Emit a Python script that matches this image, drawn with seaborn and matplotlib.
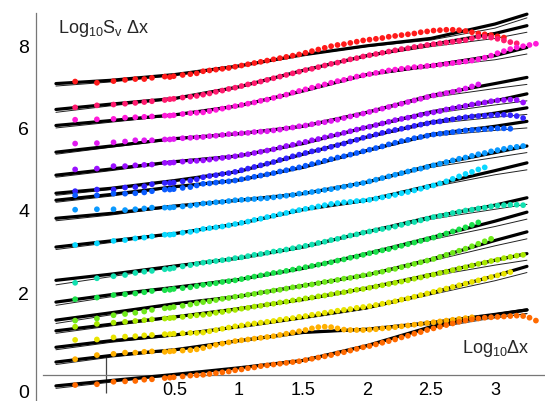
import numpy as np
import pandas as pd
import matplotlib
matplotlib.use("Agg")
import matplotlib.pyplot as plt
import seaborn as sns

N = np.nan

# ---------------- data ----------------
X_DOTS = [-0.28, -0.11, 0.02, 0.11, 0.19, 0.26, 0.32, 0.42, 0.46, 0.49, 0.56, 0.62, 0.67,
          0.72, 0.77, 0.82, 0.87, 0.92, 0.97, 1.02, 1.07, 1.12, 1.17,
          1.22, 1.27, 1.32, 1.37, 1.42, 1.47, 1.52, 1.57, 1.62, 1.67,
          1.72, 1.77, 1.82, 1.87, 1.92, 1.97, 2.02, 2.07, 2.12, 2.17,
          2.22, 2.27, 2.32, 2.37, 2.42, 2.47, 2.52, 2.57, 2.62, 2.67,
          2.72, 2.77, 2.82, 2.87, 2.92, 2.97, 3.02, 3.07, 3.12, 3.17,
          3.22, 3.27, 3.32]
X_LINE = [-0.43, 0.0, 0.5, 1.0, 1.5, 2.0, 2.5, 3.0, 3.25]

SERIES = ["red", "rose", "magenta", "violet", "purple", "blue", "azure", "sky",
          "cyan", "teal", "green", "lime", "chartreuse", "yellow", "amber", "orange"]
COLORS = ["#ff1a1a", "#ff1a6e", "#ff1ad9", "#e01af0", "#9a10ff", "#3322ff", "#0a5cff", "#0a99ff",
          "#0ad8ff", "#12e0b0", "#1ae04a", "#6ee81a", "#a8e800", "#e8e400", "#ffb000", "#ff6a00"]

RED_DOTS = [7.15, 7.12, 7.16, 7.19, 7.21, 7.21, 7.24, 7.27, 7.26, 7.28, 7.31, 7.33, 7.35,
            7.40, 7.42, 7.44, 7.46, 7.48, 7.51, 7.54, 7.57, 7.60, 7.63,
            7.66, 7.69, 7.72, 7.75, 7.78, 7.81, 7.85, 7.89, 7.93, 7.97,
            8.01, 8.04, 8.06, 8.09, 8.12, 8.15, 8.17, 8.19, 8.21, 8.24,
            8.26, 8.28, 8.30, 8.32, 8.35, 8.37, 8.39, 8.40, 8.41, 8.41,
            8.40, 8.38, 8.35, 8.32, 8.30, 8.28, 8.25, 8.22]
ROSE_DOTS = [6.52, 6.57, 6.59, 6.61, 6.63, 6.65, 6.67, 6.70, 6.72, 6.73, 6.76, 6.78, 6.80,
             6.83, 6.86, 6.90, 6.93, 6.97, 7.00, 7.04, 7.08, 7.11, 7.15,
             7.19, 7.23, 7.27, 7.31, 7.35, 7.39, 7.43, 7.46, 7.50, 7.54,
             7.58, 7.61, 7.65, 7.69, 7.72, 7.76, 7.79, 7.82, 7.85, 7.88,
             7.91, 7.94, 7.96, 7.99, 8.01, 8.04, 8.06, 8.08, 8.10, 8.12,
             8.14, 8.16, 8.20, 8.24, 8.24, 8.22, 8.19, 8.15, 8.11, 8.08]
MAGENTA_DOTS = [6.22, 6.23, 6.24, 6.27, 6.28, 6.29, 6.30, 6.32, 6.32, 6.33, 6.36, 6.38, 6.39,
                6.40, 6.43, 6.46, 6.49, 6.52, 6.55, 6.58, 6.61, 6.64, 6.68,
                6.71, 6.75, 6.79, 6.83, 6.88, 6.92, 6.96, 7.00, 7.04, 7.08,
                7.12, 7.16, 7.19, 7.23, 7.27, 7.30, 7.33, 7.36, 7.39, 7.42,
                7.44, 7.46, 7.48, 7.50, 7.51, 7.53, 7.54, 7.56, 7.58, 7.60,
                7.62, 7.64, 7.66, 7.69, 7.73, 7.78, 7.84, 7.89, 7.94, 7.98,
                8.01, 8.04, 8.07]
VIOLET_DOTS = [5.64, 5.65, 5.67, 5.69, 5.72, 5.72, 5.72, 5.74, 5.74, 5.75, 5.77, 5.78, 5.79,
               5.80, 5.82, 5.83, 5.85, 5.87, 5.88, 5.89, 5.90, 5.92, 5.93,
               5.94, 5.96, 5.98, 6.01, 6.03, 6.06, 6.08, 6.11, 6.14, 6.16,
               6.19, 6.22, 6.26, 6.30, 6.33, 6.37, 6.41, 6.45, 6.49, 6.53,
               6.57, 6.61, 6.65, 6.69, 6.73, 6.77, 6.81, 6.84, 6.87, 6.90,
               6.94, 6.98, 7.03, 7.08]
PURPLE_DOTS = [5.01, 5.03, 5.09, 5.09, 5.11, 5.12, 5.13, 5.17, 5.17, 5.18, 5.20, 5.21, 5.22,
               5.23, 5.25, 5.27, 5.29, 5.31, 5.33, 5.36, 5.38, 5.41, 5.44,
               5.47, 5.50, 5.54, 5.58, 5.61, 5.65, 5.68, 5.72, 5.75, 5.79,
               5.83, 5.86, 5.90, 5.94, 5.98, 6.02, 6.05, 6.09, 6.13, 6.17,
               6.21, 6.24, 6.27, 6.30, 6.34, 6.37, 6.40, 6.43, 6.47, 6.50,
               6.53, 6.56, 6.59, 6.62, 6.64, 6.67, 6.69, 6.70, 6.71, 6.70,
               6.64]
BLUE_DOTS = [4.48, 4.52, 4.52, 4.57, 4.58, 4.60, 4.65, 4.68, 4.68, 4.69, 4.72, 4.74, 4.77,
             4.82, 4.85, 4.87, 4.90, 4.92, 4.95, 4.99, 5.03, 5.07, 5.11,
             5.15, 5.19, 5.24, 5.28, 5.33, 5.37, 5.41, 5.45, 5.48, 5.52,
             5.56, 5.60, 5.64, 5.69, 5.73, 5.78, 5.82, 5.86, 5.90, 5.94,
             5.97, 6.00, 6.03, 6.07, 6.10, 6.13, 6.16, 6.18, 6.21, 6.23,
             6.26, 6.28, 6.30, 6.31, 6.32, 6.33, 6.34, 6.34, 6.33, 6.31,
             6.26]
AZURE_DOTS = [4.38, 4.38, 4.42, 4.42, 4.43, 4.45, 4.48, 4.52, 4.52, 4.53, 4.56, 4.58, 4.62,
              4.66, 4.67, 4.69, 4.71, 4.72, 4.74, 4.77, 4.80, 4.83, 4.86,
              4.89, 4.92, 4.96, 4.99, 5.03, 5.06, 5.10, 5.14, 5.18, 5.22,
              5.26, 5.30, 5.33, 5.37, 5.41, 5.45, 5.49, 5.53, 5.57, 5.62,
              5.66, 5.70, 5.73, 5.77, 5.80, 5.83, 5.86, 5.88, 5.90, 5.92,
              5.94, 5.96, 5.97, 5.98, 5.99, 6.00, 6.01, 6.01, 6.00]
SKY_DOTS = [4.03, 4.04, 4.04, 4.02, 4.04, 4.06, 4.08, 4.08, 4.08, 4.09, 4.11, 4.13, 4.15,
            4.18, 4.19, 4.21, 4.22, 4.24, 4.26, 4.27, 4.28, 4.29, 4.30,
            4.31, 4.33, 4.35, 4.37, 4.39, 4.42, 4.44, 4.46, 4.48, 4.51,
            4.53, 4.56, 4.59, 4.62, 4.65, 4.68, 4.72, 4.76, 4.80, 4.84,
            4.88, 4.92, 4.96, 5.00, 5.03, 5.07, 5.11, 5.15, 5.19, 5.23,
            5.27, 5.30, 5.34, 5.38, 5.41, 5.45, 5.48, 5.51, 5.54, 5.56,
            5.58]
CYAN_DOTS = [3.17, 3.21, 3.27, 3.29, 3.33, 3.35, 3.38, 3.42, 3.42, 3.43, 3.47, 3.49, 3.52,
             3.56, 3.58, 3.60, 3.62, 3.65, 3.68, 3.71, 3.74, 3.78, 3.81,
             3.85, 3.88, 3.92, 3.95, 3.99, 4.02, 4.05, 4.08, 4.11, 4.14,
             4.17, 4.19, 4.21, 4.22, 4.24, 4.25, 4.27, 4.30, 4.33, 4.36,
             4.39, 4.43, 4.46, 4.50, 4.54, 4.58, 4.62, 4.67, 4.72, 4.78,
             4.84, 4.90, 4.95, 5.01, 5.06]
TEAL_DOTS = [2.25, 2.36, 2.41, 2.44, 2.49, 2.52, 2.54, 2.58, 2.59, 2.61, 2.65, 2.68, 2.71,
             2.74, 2.76, 2.78, 2.80, 2.82, 2.85, 2.87, 2.90, 2.93, 2.95,
             2.98, 3.01, 3.03, 3.06, 3.09, 3.12, 3.15, 3.18, 3.22, 3.25,
             3.29, 3.32, 3.36, 3.40, 3.43, 3.47, 3.50, 3.53, 3.56, 3.59,
             3.62, 3.66, 3.70, 3.73, 3.77, 3.81, 3.85, 3.88, 3.91, 3.95,
             3.98, 4.01, 4.03, 4.06, 4.08, 4.11, 4.13, 4.14, 4.15, 4.15,
             4.14]
GREEN_DOTS = [1.85, 1.89, 1.95, 1.97, 1.99, 2.02, 2.05, 2.07, 2.08, 2.10, 2.12, 2.14, 2.17,
              2.20, 2.22, 2.24, 2.27, 2.29, 2.31, 2.34, 2.37, 2.40, 2.43,
              2.46, 2.49, 2.51, 2.54, 2.57, 2.60, 2.63, 2.66, 2.69, 2.72,
              2.75, 2.79, 2.82, 2.86, 2.89, 2.93, 2.97, 3.00, 3.04, 3.07,
              3.11, 3.15, 3.19, 3.23, 3.27, 3.31, 3.35, 3.40, 3.45, 3.50,
              3.55, 3.60, 3.66, 3.72]
LIME_DOTS = [1.33, 1.38, 1.46, 1.49, 1.52, 1.55, 1.59, 1.63, 1.64, 1.66, 1.69, 1.72, 1.75,
             1.78, 1.80, 1.83, 1.86, 1.88, 1.91, 1.93, 1.96, 1.98, 2.01,
             2.03, 2.06, 2.08, 2.11, 2.14, 2.16, 2.19, 2.21, 2.24, 2.27,
             2.29, 2.32, 2.35, 2.37, 2.40, 2.43, 2.46, 2.49, 2.52, 2.56,
             2.59, 2.63, 2.67, 2.71, 2.75, 2.79, 2.83, 2.88, 2.93, 2.98,
             3.03, 3.08, 3.14, 3.20, 3.26, 3.32]
CHART_DOTS = [1.18, 1.25, 1.28, 1.30, 1.32, 1.34, 1.36, 1.38, 1.39, 1.40, 1.42, 1.44, 1.46,
              1.47, 1.49, 1.52, 1.54, 1.57, 1.59, 1.62, 1.64, 1.67, 1.69,
              1.72, 1.74, 1.77, 1.79, 1.82, 1.84, 1.87, 1.89, 1.92, 1.94,
              1.97, 2.00, 2.02, 2.05, 2.08, 2.10, 2.13, 2.16, 2.19, 2.22,
              2.25, 2.28, 2.31, 2.35, 2.38, 2.42, 2.45, 2.49, 2.52, 2.56,
              2.60, 2.63, 2.67, 2.71, 2.74, 2.78, 2.81, 2.85, 2.88, 2.91,
              2.93]
YELLOW_DOTS = [0.86, 0.87, 0.92, 0.94, 0.95, 0.97, 0.98, 1.00, 1.00, 1.01, 1.02, 1.03, 1.03,
               1.04, 1.07, 1.10, 1.13, 1.16, 1.19, 1.21, 1.24, 1.26, 1.28,
               1.30, 1.32, 1.35, 1.37, 1.39, 1.42, 1.44, 1.47, 1.49, 1.52,
               1.54, 1.57, 1.59, 1.61, 1.64, 1.66, 1.68, 1.71, 1.74, 1.77,
               1.80, 1.84, 1.87, 1.91, 1.95, 1.99, 2.03, 2.07, 2.11, 2.15,
               2.19, 2.23, 2.27, 2.31, 2.35, 2.39, 2.43, 2.47, 2.51]
AMBER_DOTS = [0.39, 0.49, 0.52, 0.55, 0.55, 0.57, 0.58, 0.57, 0.58, 0.59, 0.60, 0.61, 0.63,
              0.66, 0.70, 0.74, 0.77, 0.80, 0.83, 0.85, 0.87, 0.89, 0.91,
              0.93, 0.95, 0.98, 1.01, 1.04, 1.07, 1.10, 1.14, 1.17, 1.18,
              1.17, 1.14, 1.11, 1.10, 1.10, 1.10, 1.11, 1.12, 1.14, 1.15,
              1.17, 1.19, 1.21, 1.23, 1.25, 1.27, 1.29, 1.31, 1.33, 1.35,
              1.37, 1.39, 1.41]
ORANGE_DOTS = [-0.24, -0.22, -0.16, -0.15, -0.14, -0.11, -0.10, -0.07, -0.06, -0.05, -0.03, -0.01, 0.00,
               0.01, 0.03, 0.05, 0.07, 0.09, 0.12, 0.14, 0.17, 0.19, 0.22,
               0.24, 0.26, 0.28, 0.30, 0.32, 0.34, 0.37, 0.40, 0.43, 0.46,
               0.49, 0.53, 0.56, 0.60, 0.64, 0.68, 0.71, 0.75, 0.79, 0.83,
               0.87, 0.92, 0.96, 1.01, 1.05, 1.10, 1.14, 1.18, 1.22, 1.26,
               1.30, 1.33, 1.36, 1.38, 1.40, 1.41, 1.42, 1.43, 1.44, 1.45,
               1.44, 1.40, 1.33]

RED_THICK = [7.10, 7.18, 7.32, 7.53, 7.80, 8.02, 8.20, 8.55, 8.79]
RED_THIN = [7.04, 7.14, 7.30, 7.52, 7.79, 8.00, 8.16, 8.45, 8.70]
ROSE_THICK = [6.47, 6.60, 6.74, 7.02, 7.42, 7.78, 8.05, 8.32, 8.51]
ROSE_THIN = [6.40, 6.56, 6.72, 7.01, 7.41, 7.76, 8.00, 8.20, 8.35]
MAGENTA_THICK = [6.08, 6.20, 6.34, 6.56, 6.92, 7.32, 7.54, 7.78, 7.98]
MAGENTA_THIN = [6.02, 6.16, 6.32, 6.55, 6.91, 7.30, 7.50, 7.68, 7.82]
VIOLET_THICK = [5.43, 5.58, 5.76, 5.88, 6.06, 6.40, 6.81, 7.10, 7.25]
VIOLET_THIN = [5.38, 5.55, 5.74, 5.87, 6.05, 6.38, 6.76, 6.98, 7.08]
PURPLE_THICK = [4.87, 5.02, 5.20, 5.34, 5.64, 6.04, 6.41, 6.68, 6.85]
PURPLE_THIN = [4.82, 4.98, 5.18, 5.33, 5.63, 6.02, 6.37, 6.58, 6.68]
BLUE_THICK = [4.43, 4.55, 4.74, 4.96, 5.38, 5.80, 6.16, 6.38, 6.51]
BLUE_THIN = [4.38, 4.52, 4.72, 4.95, 5.37, 5.78, 6.12, 6.28, 6.35]
AZURE_THICK = [4.26, 4.40, 4.59, 4.75, 5.06, 5.47, 5.86, 6.06, 6.18]
AZURE_THIN = [4.21, 4.36, 4.57, 4.74, 5.05, 5.45, 5.82, 5.96, 6.02]
SKY_THICK = [3.82, 3.94, 4.12, 4.26, 4.42, 4.70, 5.11, 5.42, 5.58]
SKY_THIN = [3.76, 3.90, 4.10, 4.25, 4.41, 4.68, 5.06, 5.30, 5.42]
CYAN_THICK = [3.12, 3.27, 3.45, 3.69, 4.03, 4.26, 4.62, 4.98, 5.17]
CYAN_THIN = [3.06, 3.23, 3.43, 3.68, 4.02, 4.24, 4.58, 4.88, 5.00]
TEAL_THICK = [2.31, 2.46, 2.66, 2.85, 3.12, 3.49, 3.85, 4.14, 4.32]
TEAL_THIN = [2.20, 2.40, 2.63, 2.84, 3.11, 3.47, 3.80, 4.04, 4.16]
GREEN_THICK = [1.78, 1.96, 2.14, 2.33, 2.60, 2.96, 3.35, 3.75, 3.97]
GREEN_THIN = [1.70, 1.91, 2.12, 2.32, 2.59, 2.94, 3.30, 3.62, 3.80]
LIME_THICK = [1.34, 1.52, 1.74, 1.92, 2.18, 2.44, 2.82, 3.28, 3.49]
LIME_THIN = [1.26, 1.47, 1.72, 1.91, 2.17, 2.42, 2.78, 3.15, 3.32]
CHART_THICK = [1.08, 1.24, 1.42, 1.62, 1.84, 2.12, 2.45, 2.80, 2.96]
CHART_THIN = [1.02, 1.20, 1.40, 1.61, 1.83, 2.10, 2.41, 2.68, 2.80]
YELLOW_THICK = [0.68, 0.84, 0.98, 1.18, 1.40, 1.64, 2.00, 2.42, 2.65]
YELLOW_THIN = [0.62, 0.80, 0.96, 1.17, 1.39, 1.62, 1.96, 2.30, 2.50]
AMBER_THICK = [0.32, 0.48, 0.62, 0.84, 1.04, 1.12, 1.28, 1.48, 1.59]
AMBER_THIN = [0.26, 0.44, 0.60, 0.83, 1.03, 1.10, 1.24, 1.40, 1.50]
ORANGE_THICK = [-0.26, -0.13, 0.02, 0.18, 0.36, 0.72, 1.18, 1.47, 1.59]
ORANGE_THIN = [-0.32, -0.17, 0.00, 0.17, 0.35, 0.70, 1.14, 1.40, 1.50]

X_TICKS = [0.5, 1.0, 1.5, 2.0, 2.5, 3.0]
X_TICK_LABELS = ["0.5", "1", "1.5", "2", "2.5", "3"]
Y_TICKS = [-0.40, 2, 4, 6, 8]
Y_TICK_LABELS = ["0", "2", "4", "6", "8"]

DOTS = [RED_DOTS, ROSE_DOTS, MAGENTA_DOTS, VIOLET_DOTS, PURPLE_DOTS, BLUE_DOTS, AZURE_DOTS, SKY_DOTS,
        CYAN_DOTS, TEAL_DOTS, GREEN_DOTS, LIME_DOTS, CHART_DOTS, YELLOW_DOTS, AMBER_DOTS, ORANGE_DOTS]
THICK = [RED_THICK, ROSE_THICK, MAGENTA_THICK, VIOLET_THICK, PURPLE_THICK, BLUE_THICK, AZURE_THICK,
         SKY_THICK, CYAN_THICK, TEAL_THICK, GREEN_THICK, LIME_THICK, CHART_THICK, YELLOW_THICK,
         AMBER_THICK, ORANGE_THICK]
THIN = [RED_THIN, ROSE_THIN, MAGENTA_THIN, VIOLET_THIN, PURPLE_THIN, BLUE_THIN, AZURE_THIN,
        SKY_THIN, CYAN_THIN, TEAL_THIN, GREEN_THIN, LIME_THIN, CHART_THIN, YELLOW_THIN,
        AMBER_THIN, ORANGE_THIN]

# ---------------- frames ----------------
rows = []
for name, ys in zip(SERIES, DOTS):
    for x, y in zip(X_DOTS, ys):
        rows.append((name, x, y))
dots_df = pd.DataFrame(rows, columns=["series", "x", "y"]).dropna()

def line_frame(lists):
    r = []
    for name, ys in zip(SERIES, lists):
        for x, y in zip(X_LINE, ys):
            r.append((name, x, y))
    return pd.DataFrame(r, columns=["series", "x", "y"])

thick_df = line_frame(THICK)
thin_df = line_frame(THIN)

# ---------------- style ----------------
sns.set_style("white")
plt.rcParams["font.family"] = ["Liberation Sans", "DejaVu Sans"]
plt.rcParams["mathtext.fontset"] = "custom"
plt.rcParams["mathtext.rm"] = "Liberation Sans"
plt.rcParams["mathtext.it"] = "Liberation Sans:italic"

fig = plt.figure(figsize=(5.45, 4.01), dpi=100)
ax = fig.add_axes([0, 0, 1, 1])
ax.set_facecolor("white")

sns.lineplot(data=thin_df, x="x", y="y", units="series", estimator=None, sort=False,
             color="#222222", linewidth=0.7, legend=False, ax=ax, zorder=2)
sns.lineplot(data=thick_df, x="x", y="y", units="series", estimator=None, sort=False,
             color="black", linewidth=2.3, legend=False, ax=ax, zorder=3)
sns.scatterplot(data=dots_df, x="x", y="y", hue="series", hue_order=SERIES,
                palette=dict(zip(SERIES, COLORS)), s=17, linewidth=0, legend=False,
                ax=ax, zorder=4)

# axes geometry
ax.set_xlim(-0.867, 3.391)
ax.set_ylim(-0.628, 9.135)
ax.set_xlabel("")
ax.set_ylabel("")

for s in ["top", "right"]:
    ax.spines[s].set_visible(False)
ax.spines["left"].set_position(("data", -0.586))
ax.spines["left"].set_bounds(-0.628, 8.82)
ax.spines["bottom"].set_position(("data", 0.0))
ax.spines["bottom"].set_bounds(-0.531, 3.391)
for s in ["left", "bottom"]:
    ax.spines[s].set_color("#777777")
    ax.spines[s].set_linewidth(0.9)

# secondary short axis segment near x = 0
ax.vlines(-0.04, -0.43, 0.49, color="#444444", linewidth=0.9, zorder=1)

ax.set_xticks(X_TICKS)
ax.set_xticklabels(X_TICK_LABELS)
ax.set_xticks([round(v, 1) for v in np.arange(-0.4, 3.35, 0.1) if round(v, 1) not in X_TICKS], minor=True)
ax.set_yticks(Y_TICKS)
ax.set_yticklabels(Y_TICK_LABELS)
ax.set_yticks([v for v in np.arange(0.5, 8.6, 0.5) if v not in Y_TICKS], minor=True)

ax.tick_params(axis="x", which="major", direction="in", length=4.5, width=0.8, color="#777777",
               labelsize=13, pad=5, labelcolor="black")
ax.tick_params(axis="x", which="minor", direction="in", length=3, width=0.7, color="#777777")
ax.tick_params(axis="y", which="major", direction="in", length=4, width=0.8, color="#777777",
               labelsize=14, pad=5, labelcolor="black")
ax.tick_params(axis="y", which="minor", direction="in", length=2.5, width=0.7, color="#777777")

ax.text(-0.41, 8.43, "Log$_{10}$S$_{\\mathrm{v}}$ Δx", fontsize=13, ha="left", va="center")
ax.text(2.74, 0.65, "Log$_{10}$Δx", fontsize=13, ha="left", va="center")

fig.savefig("out.png", dpi=100, facecolor="white")
